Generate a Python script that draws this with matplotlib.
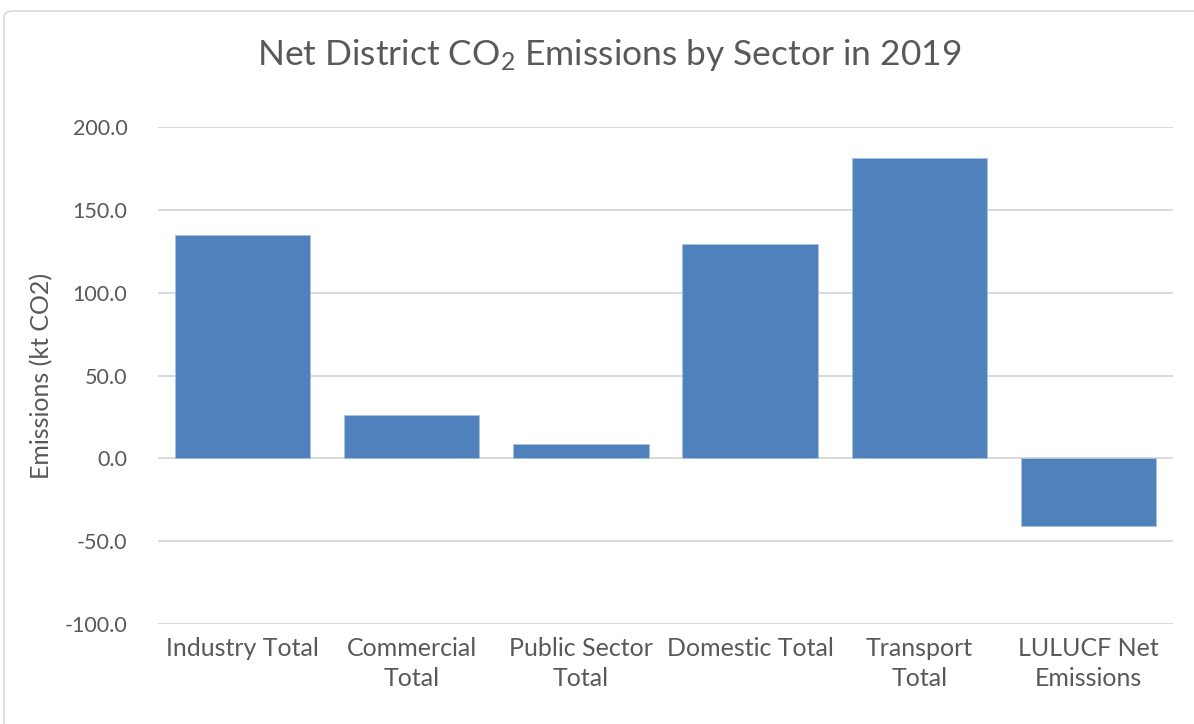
import matplotlib.pyplot as plt
from matplotlib.patches import FancyBboxPatch

sectors = ['Industry Total', 'Commercial\nTotal', 'Public Sector\nTotal',
           'Domestic Total', 'Transport\nTotal', 'LULUCF Net\nEmissions']
emissions = [134.6, 26.3, 8.6, 129.6, 181.1, -40.8]
yticks = [-100, -50, 0, 50, 100, 150, 200]

plt.rcParams['font.family'] = ['Lato', 'DejaVu Sans']
plt.rcParams['mathtext.fontset'] = 'custom'
plt.rcParams['mathtext.rm'] = 'Lato'

text_col = '#595959'
W, H = 1194, 724
fig = plt.figure(figsize=(W / 100, H / 100), dpi=100)
ax = fig.add_axes([158 / W, 1 - 624 / H, 1015 / W, 497 / H])

# chart area frame
frame = FancyBboxPatch((4 / W, -0.05), 1.05, 1 - 11 / H + 0.05,
                       boxstyle='round,pad=0,rounding_size=0.008',
                       transform=fig.transFigure, fill=False,
                       edgecolor='#d9d9d9', linewidth=1.2)
fig.patches.append(frame)

x = range(len(sectors))
ax.bar(x, emissions, width=0.8, color='#4f81bd', edgecolor='#a9c0de',
       linewidth=0.6, zorder=3)

ax.set_ylim(-100, 200)
ax.set_xlim(-0.5, len(sectors) - 0.5)
ax.set_yticks(yticks)
ax.set_yticklabels([f'{v:.1f}' for v in yticks], fontsize=15.5)
ax.set_xticks(list(x))
ax.set_xticklabels(sectors, linespacing=1.4, fontsize=18)
ax.grid(axis='y', color='#d9d9d9', linewidth=1.4, zorder=0)
ax.tick_params(length=0, colors=text_col)
ax.tick_params(axis='x', pad=9)
ax.tick_params(axis='y', pad=22)
for s in ax.spines.values():
    s.set_visible(False)

ax.set_ylabel('Emissions (kt CO2)', fontsize=18, color=text_col, labelpad=8)
fig.text(609 / W, 1 - 55 / H, r'Net District CO$\mathregular{_2}$ Emissions by Sector in 2019',
         ha='center', va='center', fontsize=25.5, color=text_col)

fig.savefig('out.png', dpi=100)
